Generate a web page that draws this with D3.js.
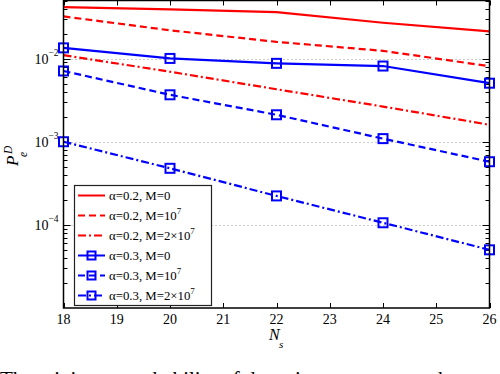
<!DOCTYPE html>
<html>
<head>
<meta charset="utf-8">
<script src="https://cdn.jsdelivr.net/npm/d3@7"></script>
<style>
  body { margin: 0; background: #fff; }
  svg { display: block; font-family: 'Liberation Serif', 'Times New Roman', serif; }
</style>
</head>
<body>
<div id="graf"></div>
<script>
// -- Datos
const Ns = [18, 20, 22, 24, 26]
const a02_M0   = [0.0416, 0.0390, 0.0362, 0.0270, 0.0213]
const a02_M1e7 = [0.0322, 0.0219, 0.0159, 0.0124, 0.0081]
const a02_M2e7 = [0.0110, 0.00695, 0.00428, 0.00265, 0.0016]
const a03_M0   = [0.01346, 0.01005, 0.00877, 0.00814, 0.00506]
const a03_M1e7 = [0.0071, 0.00367, 0.00211, 0.00109, 0.000575]
const a03_M2e7 = [0.001, 0.000479, 0.000223, 0.000106, 0.0000501]

const xTicks = [18, 19, 20, 21, 22, 23, 24, 25, 26]
const yTicks = [1e-2, 1e-3, 1e-4]
const yTickExp = ['\u22122', '\u22123', '\u22124']

const series = [
  { alpha: '0.2', m: '0',    sup: '',  vals: a02_M0,   color: '#ff0000', dash: null,      marker: false },
  { alpha: '0.2', m: '10',   sup: '7', vals: a02_M1e7, color: '#ff0000', dash: '7,4',     marker: false },
  { alpha: '0.2', m: '2×10', sup: '7', vals: a02_M2e7, color: '#ff0000', dash: '8,3,2,3', marker: false },
  { alpha: '0.3', m: '0',    sup: '',  vals: a03_M0,   color: '#0000ff', dash: null,      marker: true },
  { alpha: '0.3', m: '10',   sup: '7', vals: a03_M1e7, color: '#0000ff', dash: '7,4',     marker: true },
  { alpha: '0.3', m: '2×10', sup: '7', vals: a03_M2e7, color: '#0000ff', dash: '8,3,2,3', marker: true }
]

// -- Lienzo
const W = 500
const H = 374
const svg = d3.select('#graf').append('svg')
              .attr('width', W)
              .attr('height', H)

const pL = 63.5
const pR = 489.5
const pT = 0.5
const pB = 308

const x = d3.scaleLinear().domain([18, 26]).range([pL, pR])
const y = d3.scaleLog().domain([1e-5, 0.05]).range([pB, pT])

// -- Grid punteado en las décadas
svg.append('g')
   .selectAll('line')
   .data(yTicks)
   .join('line')
     .attr('x1', pL)
     .attr('x2', pR)
     .attr('y1', d => Math.round(y(d)) + 0.5)
     .attr('y2', d => Math.round(y(d)) + 0.5)
     .attr('stroke', '#9a9a9a')
     .attr('stroke-width', 1)
     .attr('stroke-dasharray', '1,3')

// -- Ticks menores del eje log
const minor = []
for (let e = -5; e <= -2; e++) {
  for (let k = 2; k <= 9; k++) {
    const v = k * Math.pow(10, e)
    if (v <= 0.05) minor.push(v)
  }
}

const tk = svg.append('g').attr('stroke', '#000').attr('stroke-width', 1)
minor.forEach(v => {
  const yy = Math.round(y(v)) + 0.5
  tk.append('line').attr('x1', pL).attr('x2', pL + 4).attr('y1', yy).attr('y2', yy)
  tk.append('line').attr('x1', pR).attr('x2', pR - 4).attr('y1', yy).attr('y2', yy)
})
yTicks.forEach(v => {
  const yy = Math.round(y(v)) + 0.5
  tk.append('line').attr('x1', pL).attr('x2', pL + 7).attr('y1', yy).attr('y2', yy)
  tk.append('line').attr('x1', pR).attr('x2', pR - 7).attr('y1', yy).attr('y2', yy)
})
xTicks.forEach(v => {
  const xx = Math.round(x(v)) + 0.5
  tk.append('line').attr('x1', xx).attr('x2', xx).attr('y1', pB).attr('y2', pB - 5)
  tk.append('line').attr('x1', xx).attr('x2', xx).attr('y1', pT).attr('y2', pT + 5)
})

// -- Curvas
const line = d3.line()
               .x((d, i) => x(Ns[i]))
               .y(d => y(d))

const curves = svg.append('g')
series.forEach(s => {
  curves.append('path')
        .datum(s.vals)
        .attr('d', line)
        .attr('fill', 'none')
        .attr('stroke', s.color)
        .attr('stroke-width', 2.2)
        .attr('stroke-dasharray', s.dash)
  if (s.marker) {
    curves.append('g')
          .selectAll('rect')
          .data(s.vals)
          .join('rect')
            .attr('x', (d, i) => x(Ns[i]) - 4.5)
            .attr('y', d => y(d) - 4.5)
            .attr('width', 9)
            .attr('height', 9)
            .attr('fill', 'none')
            .attr('stroke', s.color)
            .attr('stroke-width', 2)
  }
})

// -- Marco
svg.append('rect')
   .attr('x', pL)
   .attr('y', pT)
   .attr('width', pR - pL)
   .attr('height', pB - pT)
   .attr('fill', 'none')
   .attr('stroke', '#000')
   .attr('stroke-width', 1.5)

// -- Etiquetas de ticks
svg.append('g')
   .selectAll('text')
   .data(xTicks)
   .join('text')
     .attr('x', d => x(d))
     .attr('y', 324)
     .attr('text-anchor', 'middle')
     .attr('font-size', 14)
     .text(d => d)

const yl = svg.append('g')
yTicks.forEach((v, i) => {
  const yy = y(v)
  yl.append('text')
    .attr('x', 48.5)
    .attr('y', yy + 5)
    .attr('text-anchor', 'end')
    .attr('font-size', 14)
    .text('10')
  yl.append('text')
    .attr('x', 48.5)
    .attr('y', yy - 2.5)
    .attr('font-size', 9.5)
    .text(yTickExp[i])
})

// -- Títulos de ejes
svg.append('text')
   .attr('x', 269)
   .attr('y', 340)
   .attr('font-size', 16)
   .attr('font-style', 'italic')
   .text('N')
svg.append('text')
   .attr('x', 279)
   .attr('y', 348)
   .attr('font-size', 11)
   .attr('font-style', 'italic')
   .text('s')

const ylab = svg.append('g').attr('transform', 'rotate(-90)')
ylab.append('text')
    .attr('x', -166)
    .attr('y', 18)
    .attr('font-size', 17)
    .attr('font-style', 'italic')
    .text('P')
ylab.append('text')
    .attr('x', -154)
    .attr('y', 12)
    .attr('font-size', 11.5)
    .attr('font-style', 'italic')
    .text('D')
ylab.append('text')
    .attr('x', -157)
    .attr('y', 27)
    .attr('font-size', 11.5)
    .attr('font-style', 'italic')
    .text('e')

// -- Leyenda
const lx = 74.5
const ly = 185.5
const lw = 137
const lh = 120
const leg = svg.append('g')
leg.append('rect')
   .attr('x', lx)
   .attr('y', ly)
   .attr('width', lw)
   .attr('height', lh)
   .attr('fill', '#fff')
   .attr('stroke', '#222')
   .attr('stroke-width', 1.2)

series.forEach((s, i) => {
  const ry = 195.5 + i * 20
  leg.append('line')
     .attr('x1', 78)
     .attr('x2', 105)
     .attr('y1', ry)
     .attr('y2', ry)
     .attr('stroke', s.color)
     .attr('stroke-width', 2)
     .attr('stroke-dasharray', s.dash)
  if (s.marker) {
    leg.append('rect')
       .attr('x', 91.5 - 4)
       .attr('y', ry - 4)
       .attr('width', 8)
       .attr('height', 8)
       .attr('fill', 'none')
       .attr('stroke', s.color)
       .attr('stroke-width', 2)
  }
  const t = leg.append('text')
               .attr('x', 109)
               .attr('y', ry + 4)
               .attr('font-size', 12.8)
  t.append('tspan').text(`α=${s.alpha}, M=${s.m}`)
  if (s.sup) {
    t.append('tspan')
     .attr('dy', -6)
     .attr('font-size', 9)
     .text(s.sup)
  }
})

// -- Texto del pie (cortado en la figura original)
svg.append('text')
   .attr('x', 0)
   .attr('y', 386)
   .attr('font-size', 21)
   .text('The minimum probability of detection error versus the')
</script>
</body>
</html>
